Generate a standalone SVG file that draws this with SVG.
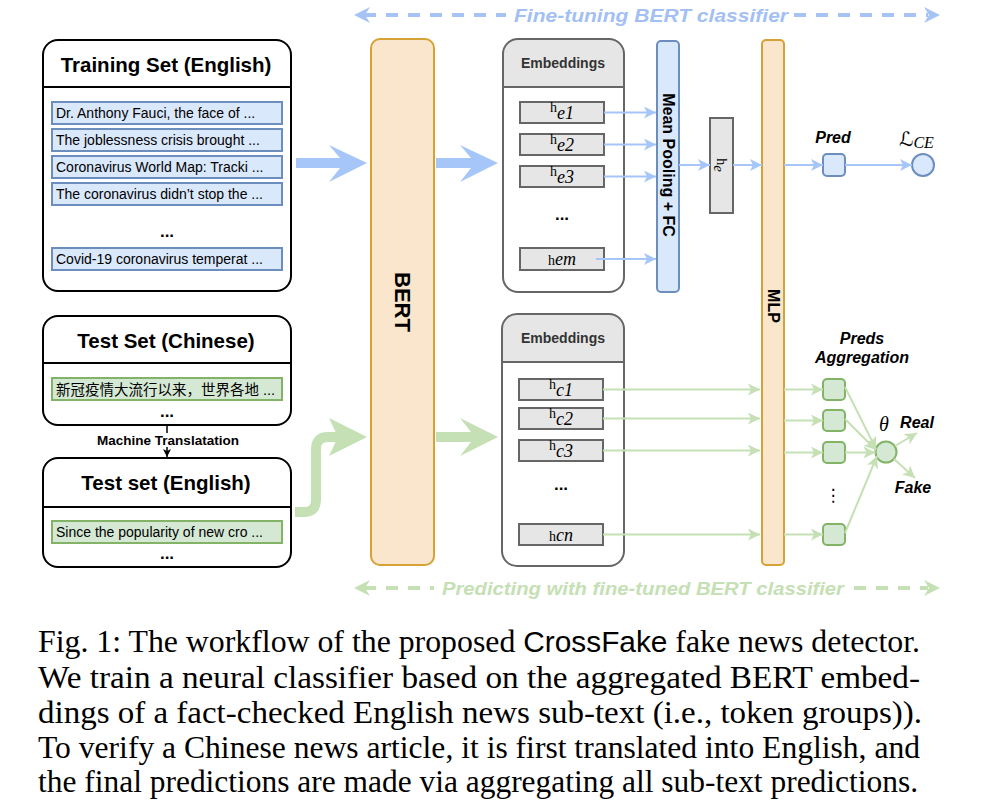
<svg xmlns="http://www.w3.org/2000/svg" width="992" height="811" viewBox="0 0 992 811">
<style>
.s{font-family:"Liberation Sans",Arial,sans-serif}
.ttl{font-size:20.5px;font-weight:bold;text-anchor:middle}
.it{font-size:14px}
.b{font-weight:bold}
.bi{font-weight:bold;font-style:italic}
.m{font-family:"Liberation Serif","Times New Roman",serif}
.cap{font-family:"Liberation Serif","Times New Roman",serif;font-size:32px}
.cont{fill:#fff;stroke:#000;stroke-width:2}
.bitem{fill:#dae8fc;stroke:#6c8ebf;stroke-width:2}
.gitem{fill:#d5e8d4;stroke:#82b366;stroke-width:2}
.gray{fill:#e6e6e6;stroke:#666;stroke-width:2}
.orng{fill:#fae5cd;stroke:#d6a236;stroke-width:2}
.bl{stroke:#a6c6fa;stroke-width:2;fill:none}
.gl{stroke:#c5e0b4;stroke-width:2;fill:none}
</style>
<defs>
<marker id="ab" markerUnits="userSpaceOnUse" markerWidth="12" markerHeight="12" refX="12" refY="6" orient="auto"><path d="M0,0 L12,6 L0,12 L3,6 Z" fill="#a6c6fa"/></marker>
<marker id="ag" markerUnits="userSpaceOnUse" markerWidth="12" markerHeight="12" refX="12" refY="6" orient="auto"><path d="M0,0 L12,6 L0,12 L3,6 Z" fill="#c5e0b4"/></marker>
<marker id="ak" markerUnits="userSpaceOnUse" markerWidth="8" markerHeight="8" refX="8" refY="4" orient="auto"><path d="M0,0 L8,4 L0,8 L2,4 Z" fill="#000"/></marker>
</defs>

<!-- Top dashed arrow -->
<g id="finetune">
<line x1="364" y1="15" x2="506" y2="15" stroke="#a6c3f6" stroke-width="4" stroke-dasharray="12 10"/>
<line x1="794" y1="15" x2="928" y2="15" stroke="#a6c3f6" stroke-width="4" stroke-dasharray="12 10"/>
<polygon points="354,15 370,7 365,15 370,23" fill="#a6c3f6"/>
<polygon points="940,15 924,7 929,15 924,23" fill="#a6c3f6"/>
<text x="651" y="22" class="s bi" font-size="19" fill="#a3c0f5" text-anchor="middle" textLength="274" lengthAdjust="spacingAndGlyphs">Fine-tuning BERT classifier</text>
</g>

<!-- Bottom dashed arrow -->
<g id="predicting">
<line x1="364" y1="588" x2="434" y2="588" stroke="#c5e0b4" stroke-width="4" stroke-dasharray="12 10"/>
<line x1="854" y1="588" x2="928" y2="588" stroke="#c5e0b4" stroke-width="4" stroke-dasharray="12 10"/>
<polygon points="354,588 370,580 365,588 370,596" fill="#c5e0b4"/>
<polygon points="940,588 924,580 929,588 924,596" fill="#c5e0b4"/>
<text x="643" y="595" class="s bi" font-size="19" fill="#c5e0b4" text-anchor="middle" textLength="402" lengthAdjust="spacingAndGlyphs">Predicting with fine-tuned BERT classifier</text>
</g>

<!-- Training set -->
<g id="training-set">
<rect x="43" y="40" width="248" height="251" rx="15" class="cont"/>
<line x1="43" y1="87" x2="291" y2="87" stroke="#000" stroke-width="2"/>
<text x="166" y="72" class="s ttl">Training Set (English)</text>
<rect x="52" y="102" width="230" height="22" class="bitem"/>
<text x="56" y="118" class="s it">Dr. Anthony Fauci, the face of ...</text>
<rect x="52" y="129" width="230" height="22" class="bitem"/>
<text x="56" y="145" class="s it">The joblessness crisis brought ...</text>
<rect x="52" y="156" width="230" height="22" class="bitem"/>
<text x="56" y="172" class="s it">Coronavirus World Map: Tracki ...</text>
<rect x="52" y="183" width="230" height="22" class="bitem"/>
<text x="56" y="199" class="s it">The coronavirus didn’t stop the ...</text>
<text x="167" y="237" class="s b" font-size="17" text-anchor="middle">...</text>
<rect x="52" y="248" width="230" height="22" class="bitem"/>
<text x="56" y="264" class="s it">Covid-19 coronavirus temperat ...</text>
</g>

<!-- Test set Chinese -->
<g id="test-set-chinese">
<rect x="43" y="316" width="248" height="109" rx="15" class="cont"/>
<line x1="43" y1="363" x2="291" y2="363" stroke="#000" stroke-width="2"/>
<text x="166" y="348" class="s ttl">Test Set (Chinese)</text>
<rect x="52" y="378" width="230" height="22" class="gitem"/>
<text x="56" y="395" font-family="'Liberation Sans','Noto Sans CJK SC',sans-serif" font-size="14.5">新冠疫情大流行以来，世界各地 ...</text>
<text x="167" y="417" class="s b" font-size="17" text-anchor="middle">...</text>
</g>

<!-- Test set English -->
<g id="test-set-english">
<rect x="43" y="458" width="248" height="109" rx="15" class="cont"/>
<line x1="43" y1="507" x2="291" y2="507" stroke="#000" stroke-width="2"/>
<text x="166" y="490" class="s ttl">Test set (English)</text>
<rect x="52" y="521" width="230" height="22" class="gitem"/>
<text x="56" y="537" class="s it">Since the popularity of new cro ...</text>
<text x="167" y="559" class="s b" font-size="17" text-anchor="middle">...</text>
</g>

<!-- BERT -->
<g id="bert">
<rect x="371" y="39" width="63" height="526" rx="9" class="orng"/>
<text x="402" y="302" class="s b" font-size="22" text-anchor="middle" dominant-baseline="central" transform="rotate(90 402 302)">BERT</text>
</g>

<!-- Embeddings top -->
<g id="embeddings-train">
<path d="M503,87 V54 Q503,39 518,39 H609 Q624,39 624,54 V87 Z" fill="#e6e6e6"/>
<rect x="503" y="39" width="121" height="253" rx="15" fill="none" stroke="#666" stroke-width="2"/>
<line x1="503" y1="87" x2="624" y2="87" stroke="#666" stroke-width="2"/>
<text x="563" y="68" class="s b" font-size="14" fill="#333" text-anchor="middle">Embeddings</text>
<rect x="520" y="102" width="84" height="21" class="gray"/>
<text x="562" y="119" class="m" text-anchor="middle"><tspan font-size="14" dy="-7">h</tspan><tspan font-size="18" font-style="italic" dy="7">e1</tspan></text>
<rect x="520" y="134" width="84" height="21" class="gray"/>
<text x="562" y="151" class="m" text-anchor="middle"><tspan font-size="14" dy="-7">h</tspan><tspan font-size="18" font-style="italic" dy="7">e2</tspan></text>
<rect x="520" y="166" width="84" height="21" class="gray"/>
<text x="562" y="183" class="m" text-anchor="middle"><tspan font-size="14" dy="-7">h</tspan><tspan font-size="18" font-style="italic" dy="7">e3</tspan></text>
<text x="562" y="220" class="s b" font-size="17" text-anchor="middle">...</text>
<rect x="520" y="248" width="84" height="22" class="gray"/>
<text x="562" y="265" class="m" text-anchor="middle"><tspan font-size="14">h</tspan><tspan font-size="18" font-style="italic">em</tspan></text>
</g>

<!-- Mean pooling -->
<g id="mean-pooling">
<rect x="657" y="41" width="22" height="251" rx="4" class="bitem"/>
<text x="668" y="165" class="s b" font-size="16" text-anchor="middle" dominant-baseline="central" transform="rotate(90 668 165)">Mean Pooling + FC</text>
</g>

<!-- h_e -->
<g id="he">
<rect x="710" y="118" width="23" height="95" class="gray"/>
<text x="721.5" y="165" class="m" text-anchor="middle" dominant-baseline="central" transform="rotate(90 721.5 165)"><tspan font-size="14">h</tspan><tspan font-size="15" font-style="italic" dy="3">e</tspan></text>
</g>

<!-- MLP -->
<g id="mlp">
<rect x="762" y="40" width="22" height="525" rx="4" class="orng"/>
<text x="773" y="306" class="s b" font-size="16" text-anchor="middle" dominant-baseline="central" transform="rotate(90 773 306)">MLP</text>
</g>

<!-- Pred -->
<g id="pred">
<text x="833" y="143" class="s bi" font-size="16" text-anchor="middle">Pred</text>
<rect x="823" y="154" width="22" height="22" rx="4" class="bitem"/>
</g>
<g id="loss">
<circle cx="923" cy="165" r="11" class="bitem"/>
<text x="899" y="146" font-family="'DejaVu Serif','DejaVu Sans',serif"><tspan font-size="20">ℒ</tspan><tspan class="m" font-size="16" font-style="italic" dy="2">CE</tspan></text>
</g>

<!-- Embeddings bottom -->
<g id="embeddings-test">
<path d="M502,362 V329 Q502,314 517,314 H609 Q624,314 624,329 V362 Z" fill="#e6e6e6"/>
<rect x="502" y="314" width="122" height="252" rx="15" fill="none" stroke="#666" stroke-width="2"/>
<line x1="502" y1="362" x2="624" y2="362" stroke="#666" stroke-width="2"/>
<text x="563" y="343" class="s b" font-size="14" fill="#333" text-anchor="middle">Embeddings</text>
<rect x="519" y="379" width="84" height="21" class="gray"/>
<text x="561" y="396" class="m" text-anchor="middle"><tspan font-size="14" dy="-7">h</tspan><tspan font-size="18" font-style="italic" dy="7">c1</tspan></text>
<rect x="519" y="408" width="84" height="21" class="gray"/>
<text x="561" y="425" class="m" text-anchor="middle"><tspan font-size="14" dy="-7">h</tspan><tspan font-size="18" font-style="italic" dy="7">c2</tspan></text>
<rect x="519" y="440" width="84" height="21" class="gray"/>
<text x="561" y="457" class="m" text-anchor="middle"><tspan font-size="14" dy="-7">h</tspan><tspan font-size="18" font-style="italic" dy="7">c3</tspan></text>
<text x="561" y="490" class="s b" font-size="17" text-anchor="middle">...</text>
<rect x="519" y="524" width="84" height="21" class="gray"/>
<text x="561" y="541" class="m" text-anchor="middle"><tspan font-size="14">h</tspan><tspan font-size="18" font-style="italic">cn</tspan></text>
</g>

<!-- Preds aggregation -->
<g id="preds-aggregation">
<text x="862" y="344" class="s bi" font-size="16" text-anchor="middle">Preds</text>
<text x="862" y="363" class="s bi" font-size="16" text-anchor="middle">Aggregation</text>
<rect x="823" y="379" width="22" height="21" rx="4" class="gitem"/>
<rect x="823" y="410" width="22" height="21" rx="4" class="gitem"/>
<rect x="823" y="442" width="22" height="21" rx="4" class="gitem"/>
<text x="833" y="501" font-family="'DejaVu Sans',sans-serif" font-size="17" text-anchor="middle">⋮</text>
<rect x="823" y="524" width="22" height="21" rx="4" class="gitem"/>
<circle cx="886" cy="452" r="10.5" class="gitem"/>
<text x="884" y="431" class="m" font-size="20" font-style="italic" text-anchor="middle">θ</text>
<text x="917" y="428" class="s bi" font-size="16" text-anchor="middle">Real</text>
<text x="913" y="493" class="s bi" font-size="16" text-anchor="middle">Fake</text>
</g>

<!-- Connectors -->
<g id="connectors">
<polygon points="296,158 340,158 329,145 367,163 329,182 340,168 296,168" fill="#a6c6fa"/>
<polygon points="436,158 471,158 460,145 498,163 460,182 471,168 436,168" fill="#a6c6fa"/>
<path d="M295,512 H304 Q316,512 316,500 V449 Q316,437 328,437 H340" fill="none" stroke="#c5e0b4" stroke-width="10"/>
<polygon points="338,437 329,418 367,437 329,456" fill="#c5e0b4"/>
<polygon points="436,432 471,432 460,418 498,437 460,456 471,442 436,442" fill="#c5e0b4"/>
<line x1="167" y1="425" x2="167" y2="457" stroke="#000" stroke-width="1.5" marker-end="url(#ak)"/>
<rect x="92" y="433" width="154" height="14" fill="#fff"/>
<text x="168" y="445" class="s b" font-size="13.5" text-anchor="middle">Machine Translatation</text>
<line x1="604" y1="112.5" x2="656" y2="112.5" class="bl" marker-end="url(#ab)"/>
<line x1="604" y1="144.5" x2="656" y2="144.5" class="bl" marker-end="url(#ab)"/>
<line x1="604" y1="176.5" x2="656" y2="176.5" class="bl" marker-end="url(#ab)"/>
<line x1="596" y1="259" x2="656" y2="259" class="bl" marker-end="url(#ab)"/>
<line x1="679" y1="165" x2="710" y2="165" class="bl" marker-end="url(#ab)"/>
<line x1="733" y1="165" x2="762" y2="165" class="bl" marker-end="url(#ab)"/>
<line x1="784" y1="165" x2="823" y2="165" class="bl" marker-end="url(#ab)"/>
<line x1="845" y1="165" x2="912" y2="165" class="bl" marker-end="url(#ab)"/>
<line x1="603" y1="389.5" x2="760" y2="389.5" class="gl" marker-end="url(#ag)"/>
<line x1="603" y1="418.5" x2="760" y2="418.5" class="gl" marker-end="url(#ag)"/>
<line x1="603" y1="450.5" x2="760" y2="450.5" class="gl" marker-end="url(#ag)"/>
<line x1="603" y1="534.5" x2="760" y2="534.5" class="gl" marker-end="url(#ag)"/>
<line x1="784" y1="389.5" x2="823" y2="389.5" class="gl" marker-end="url(#ag)"/>
<line x1="784" y1="420.5" x2="823" y2="420.5" class="gl" marker-end="url(#ag)"/>
<line x1="784" y1="452.5" x2="823" y2="452.5" class="gl" marker-end="url(#ag)"/>
<line x1="784" y1="534.5" x2="823" y2="534.5" class="gl" marker-end="url(#ag)"/>
<line x1="845" y1="387" x2="876" y2="449" class="gl" marker-end="url(#ag)"/>
<line x1="845" y1="419" x2="876" y2="450" class="gl" marker-end="url(#ag)"/>
<line x1="845" y1="452.5" x2="875.5" y2="452.5" class="gl" marker-end="url(#ag)"/>
<line x1="845" y1="533" x2="877" y2="456" class="gl" marker-end="url(#ag)"/>
<line x1="895" y1="446" x2="917" y2="433" class="gl" marker-end="url(#ag)"/>
<line x1="894" y1="459" x2="915" y2="478" class="gl" marker-end="url(#ag)"/>
</g>

<!-- Caption -->
<g id="caption" class="cap">
<text x="38" y="652" textLength="882" lengthAdjust="spacingAndGlyphs">Fig. 1: The workflow of the proposed <tspan font-family="'Liberation Sans',Arial,sans-serif" font-size="30">CrossFake</tspan> fake news detector.</text>
<text x="38" y="688" textLength="882" lengthAdjust="spacingAndGlyphs">We train a neural classifier based on the aggregated BERT embed-</text>
<text x="38" y="723" textLength="884" lengthAdjust="spacingAndGlyphs">dings of a fact-checked English news sub-text (i.e., token groups)).</text>
<text x="38" y="758" textLength="882" lengthAdjust="spacingAndGlyphs">To verify a Chinese news article, it is first translated into English, and</text>
<text x="38" y="792" textLength="880" lengthAdjust="spacingAndGlyphs">the final predictions are made via aggregating all sub-text predictions.</text>
</g>
</svg>
